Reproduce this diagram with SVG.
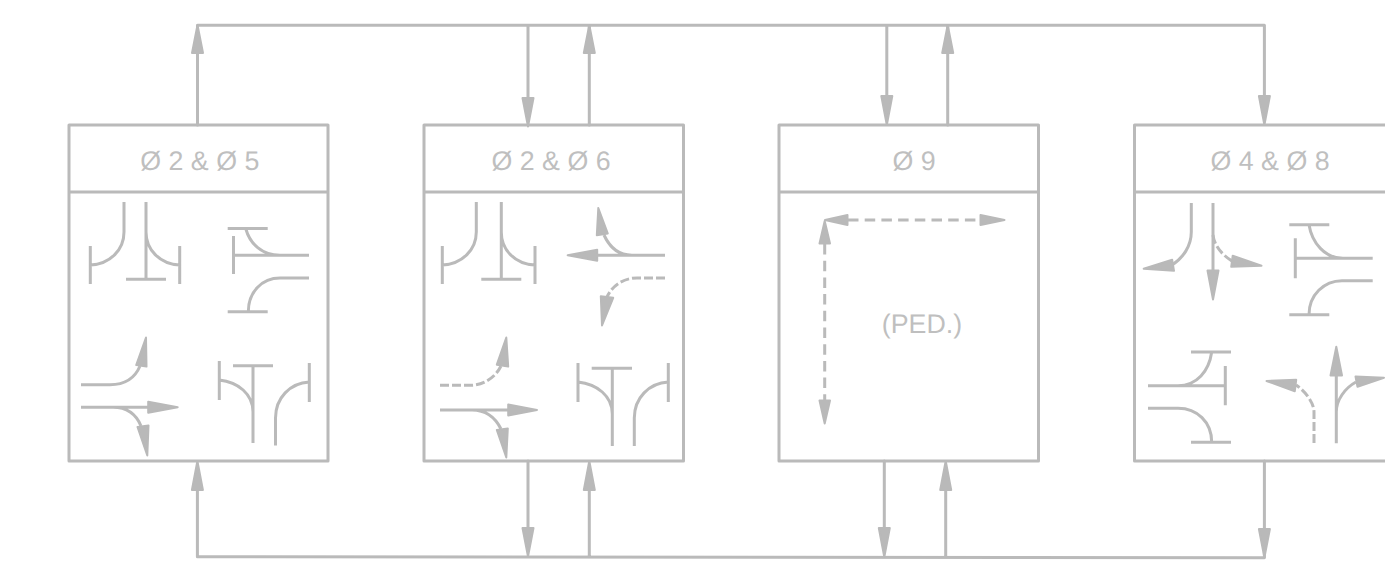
<svg xmlns="http://www.w3.org/2000/svg" width="1385" height="576" viewBox="0 0 1385 576">
<style>
.b{fill:none;stroke:#bababa;stroke-width:3;stroke-linejoin:round;stroke-linecap:round}
.l{fill:none;stroke:#bababa;stroke-width:3;stroke-linecap:butt}
.d{fill:none;stroke:#bababa;stroke-width:3;stroke-dasharray:9 3}
.p{fill:none;stroke:#bababa;stroke-width:3;stroke-dasharray:10.5 6.2}
.h{fill:#b9b9b9;stroke:#b9b9b9;stroke-width:2;stroke-linejoin:round}
.t{font-family:"Liberation Sans",Arial,sans-serif;font-size:26.8px;fill:#bfbfbf;text-anchor:middle;text-rendering:geometricPrecision}
</style>
<rect width="1385" height="576" fill="#ffffff"/>
<g id="connectors">
<path class="b" d="M197.5 125V25.3H1264.4V96M528 25.3V98M589.3 25.3V125M886.8 25.3V96M947.7 25.3V125"/>
<path class="b" d="M197.4 490V556.8L1264.4 557.8V528M528 461V528M589.3 557V490M884.3 461V528M945.7 557.4V490M1264.4 461V528"/>
<polygon class="h" points="197.5,25 192,53 203,53"/>
<polygon class="h" points="589.3,25 583.8,53 594.8,53"/>
<polygon class="h" points="947.7,25 942.2,53 953.2,53"/>
<polygon class="h" points="528,126.5 522.5,98 533.5,98"/>
<polygon class="h" points="886.8,125 881.3,96 892.3,96"/>
<polygon class="h" points="1264.4,125 1258.9,96 1269.9,96"/>
<polygon class="h" points="197.4,461 191.9,490 202.9,490"/>
<polygon class="h" points="589.3,461 583.8,490 594.8,490"/>
<polygon class="h" points="945.7,461 940.2,490 951.2,490"/>
<polygon class="h" points="528,556.5 522.5,528 533.5,528"/>
<polygon class="h" points="884.3,557 878.8,528 889.8,528"/>
<polygon class="h" points="1264.4,557.5 1258.9,529 1269.9,529"/>
</g>
<g id="phase-2-5">
<path class="b" d="M69 125H328V461H69ZM69 192H328"/>
<text class="t" x="199.8" y="170">Ø 2 &amp; Ø 5</text>
<path class="l" d="M124 202V232C124 250 110 264 90.3 265M90.3 246V284M146 202V279.3M126 279.3H166M146 232C146 250 160 264 179.7 265M179.7 246V284"/>
<path class="l" d="M227.7 228.5H267.7M233.5 236V274M233.5 255.3H309M245.7 228.5C250 244 262 255.3 280 255.3M309 278H280C262 278 248.3 292 248.3 311.7M227.7 311.7H267.7"/>
<path class="l" d="M81 384.7H110C125 384.7 135 378 140 366M81 407.3H148M113 407.3C126 407.3 136 414 141 426"/>
<polygon class="h" points="146,337.5 136.2,365 146.5,366.5"/>
<polygon class="h" points="177.7,407.3 148.2,401.8 148.2,412.8"/>
<polygon class="h" points="147.3,455.5 137.5,427 148.5,425.5"/>
<path class="l" d="M219.3 361V400M233 365.7H273M253 365.7V443M219.3 380C238 382 253 394 253 412M309.3 363V402M309.3 382C290 383 275.5 398 275.5 418V445.6"/>
</g>
<g id="phase-2-6">
<path class="b" d="M424 125H683.5V461H424ZM424 192H683.5"/>
<text class="t" x="551" y="170">Ø 2 &amp; Ø 6</text>
<path class="l" d="M476.3 202V232C476.3 250 462 264 442.3 265M442.3 246V284M501.3 202V279.3M481.3 279.3H521.3M501.3 232C501.3 250 515 264 535 265M535 246V284"/>
<path class="l" d="M665 255.3H598M632 255.3C620 255.3 610 248 604 235"/>
<polygon class="h" points="567.7,255.3 597.2,249.8 597.2,260.8"/>
<polygon class="h" points="598.3,208 596.8,235.2 607.8,233.5"/>
<path class="d" d="M665 278H637C625 278 613 284 607 297"/>
<polygon class="h" points="602,325.5 600.8,296.2 613.2,297.8"/>
<path class="d" d="M440 385.3H470C483 385.3 495 378 501 366"/>
<polygon class="h" points="506.3,337.5 496.8,364.7 508.2,366.5"/>
<path class="l" d="M440 410H508M472 410C485 410 495 417 501 429"/>
<polygon class="h" points="537,410 508.2,404.5 508.2,415.5"/>
<polygon class="h" points="506.3,457.5 496.8,430 507.8,428.5"/>
<path class="l" d="M578 363V402M591.7 368.3H632M612.3 368.3V446M578 382C597 384 612.3 396 612.3 414M668.3 363V402M668.3 382C649 383 634.3 398 634.3 418V446"/>
</g>
<g id="phase-9">
<path class="b" d="M779 125H1038.5V461H779ZM779 192H1038.5"/>
<text class="t" x="914" y="170">Ø 9</text>
<text class="t" x="922" y="333.3">(PED.)</text>
<path class="p" d="M848 220H980"/>
<path class="p" d="M824.7 244V400"/>
<polygon class="h" points="825,220 847.5,215 847.5,225"/>
<polygon class="h" points="1004.5,220 980.5,215 980.5,225"/>
<polygon class="h" points="824.7,221 819.5,243.5 830,243.5"/>
<polygon class="h" points="824.7,423.5 819.5,400.5 830,400.5"/>
</g>
<g id="phase-4-8">
<path class="b" d="M1134.5 125H1395V461H1134.5ZM1134.5 192H1395"/>
<text class="t" x="1270" y="170">Ø 4 &amp; Ø 8</text>
<path class="l" d="M1191.3 203V232C1191.3 246 1183 258 1172 265"/>
<polygon class="h" points="1143.7,268.7 1172.2,259.8 1174,270.8"/>
<path class="l" d="M1213 203V271"/>
<polygon class="h" points="1213,299.5 1207.5,270.5 1218.5,270.5"/>
<path class="d" d="M1213 235C1214 245 1222 255 1232 261"/>
<polygon class="h" points="1261.5,265.7 1232.7,255.7 1231.2,266.8"/>
<path class="l" d="M1289.3 224.7H1329.3M1295.3 238.3V278.3M1295.3 258.3H1372.7M1309 224.7C1312 243 1325 258.3 1343 258.3M1372.7 280.7H1342C1324 280.7 1309 295 1309 314.7M1289.3 314.7H1329.3"/>
<path class="l" d="M1191 352H1231M1211.7 352C1209 371 1197 385.7 1178 385.7M1148 385.7H1225.3M1225.3 366V405.3M1148 408.3H1178C1197 408.3 1211.7 422 1211.7 442.3M1191 442.3H1231"/>
<path class="d" d="M1314 443V412C1314 403 1306 392 1296 385"/>
<polygon class="h" points="1266.5,381 1296.2,379.8 1294.8,391.2"/>
<path class="l" d="M1336.3 443.3V376M1336.3 412C1336.3 400 1345 388 1356 382"/>
<polygon class="h" points="1336.3,346.8 1330.5,375.5 1342,375.5"/>
<polygon class="h" points="1384,377.7 1355.5,376.5 1357.5,386.8"/>
</g>
</svg>
